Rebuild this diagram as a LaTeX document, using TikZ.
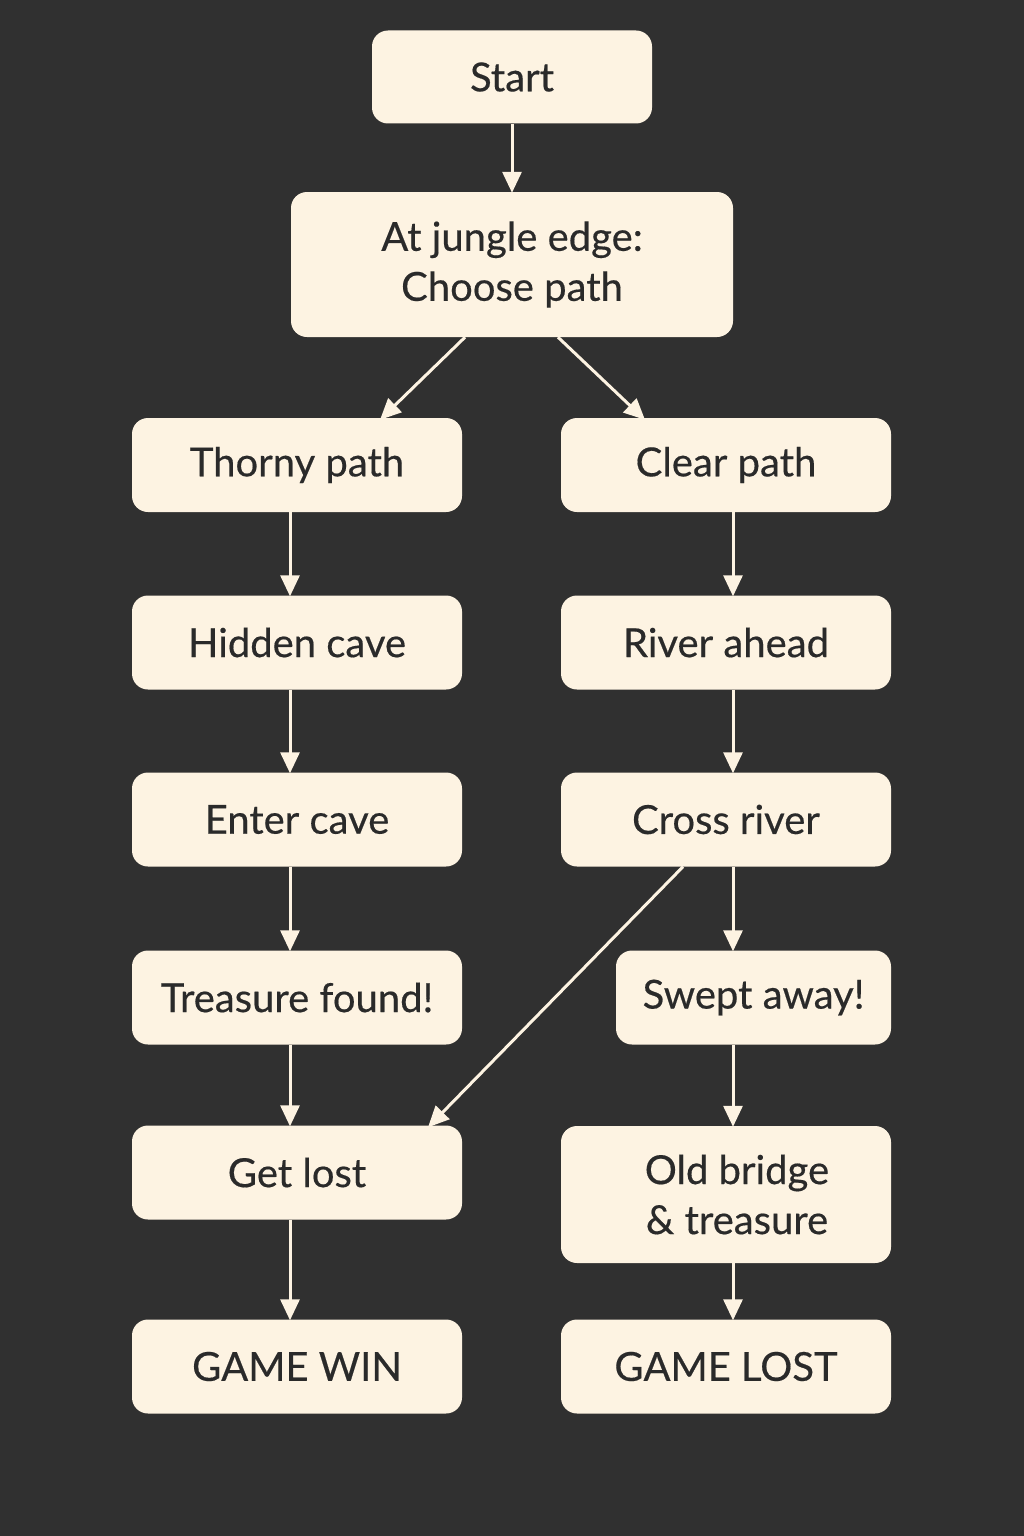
\documentclass[tikz,border=0pt]{standalone}
\usepackage{fontspec}
\setmainfont{Lato}[FakeBold=0.4]
\usetikzlibrary{arrows.meta}
\definecolor{bgc}{HTML}{303030}
\definecolor{boxc}{HTML}{FDF3E2}
\definecolor{txtc}{HTML}{2A2A2A}
\tikzset{
  stepbox/.style={fill=boxc, rounded corners=16pt, minimum width=330pt, minimum height=94pt,
    align=center, text=txtc, font=\fontsize{40}{50}\selectfont, inner sep=0pt},
  conn/.style={draw=boxc, line width=3pt, -{Triangle[length=21pt,width=19pt]}}
}
\begin{document}
\begin{tikzpicture}[x=1pt,y=-1pt]
\fill[bgc] (0,0) rectangle (1024,1536);
\useasboundingbox (0,0) rectangle (1024,1536);
\node[stepbox, minimum width=280pt, minimum height=93pt] (start) at (512,77) {Start};
\node[stepbox, minimum width=442pt, minimum height=145pt] (edge) at (512,264.5) {At jungle edge:\\Choose path};
\node[stepbox] (thorny) at (297,465) {Thorny path};
\node[stepbox] (clear) at (726,465) {Clear path};
\node[stepbox] (hidden) at (297,642.5) {Hidden cave};
\node[stepbox] (river) at (726,642.5) {River ahead};
\node[stepbox] (enter) at (297,819.5) {Enter cave};
\node[stepbox] (cross) at (726,819.5) {Cross river};
\node[stepbox] (found) at (297,997.5) {Treasure found!};
\node[stepbox, minimum width=275pt] (swept) at (753.5,997.5) {Swept away!};
\node[stepbox] (lost) at (297,1172.5) {Get lost};
\node[stepbox, minimum height=137pt] (bridge) at (726,1194.5) {\hspace*{22pt}Old bridge\\\hspace*{22pt}\& treasure};
\node[stepbox] (win) at (297,1366.5) {GAME WIN};
\node[stepbox] (glost) at (726,1366.5) {GAME LOST};

\draw[conn] (start.south) -- ([yshift=-1pt]edge.north);
\draw[conn] ([xshift=-47pt]edge.south) -- ([xshift=83pt,yshift=-2pt]thorny.north);
\draw[conn] ([xshift=46pt]edge.south) -- ([xshift=-81pt,yshift=-2pt]clear.north);
\draw[conn] ([xshift=-7pt]thorny.south) -- ([xshift=-7pt,yshift=-1pt]hidden.north);
\draw[conn] ([xshift=7pt]clear.south) -- ([xshift=7pt,yshift=-1pt]river.north);
\draw[conn] ([xshift=-7pt]hidden.south) -- ([xshift=-7pt,yshift=-1pt]enter.north);
\draw[conn] ([xshift=7pt]river.south) -- ([xshift=7pt,yshift=-1pt]cross.north);
\draw[conn] ([xshift=-7pt]enter.south) -- ([xshift=-7pt,yshift=-1pt]found.north);
\draw[conn] ([xshift=7pt]cross.south) -- ([xshift=-20.5pt,yshift=-1pt]swept.north);
\draw[conn] ([xshift=-43pt]cross.south) -- ([xshift=131pt,yshift=-2pt]lost.north);
\draw[conn] ([xshift=-7pt]found.south) -- ([xshift=-7pt,yshift=-1pt]lost.north);
\draw[conn] ([xshift=-20.5pt]swept.south) -- ([xshift=7pt,yshift=-1pt]bridge.north);
\draw[conn] ([xshift=-7pt]lost.south) -- ([xshift=-7pt,yshift=-1pt]win.north);
\draw[conn] ([xshift=7pt]bridge.south) -- ([xshift=7pt,yshift=-1pt]glost.north);
\end{tikzpicture}
\end{document}
